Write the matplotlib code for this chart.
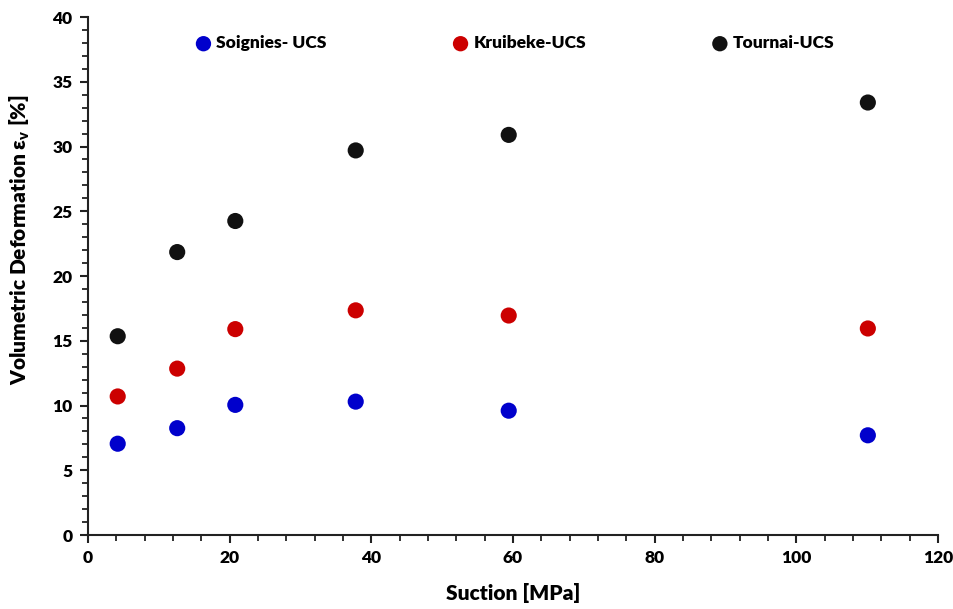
import matplotlib
matplotlib.use("Agg")
import matplotlib.pyplot as plt
from matplotlib.ticker import MultipleLocator

plt.rcParams['font.family'] = ['Lato', 'DejaVu Sans']
plt.rcParams['font.weight'] = 'heavy'
plt.rcParams['mathtext.default'] = 'regular'

suction = [4.2, 12.6, 20.8, 37.8, 59.4, 110.1]
soignies = [7.05, 8.25, 10.05, 10.3, 9.6, 7.7]
kruibeke = [10.7, 12.85, 15.9, 17.35, 16.95, 15.95]
tournai = [15.35, 21.85, 24.25, 29.7, 30.9, 33.4]
labels = ['Soignies- UCS', 'Kruibeke-UCS', 'Tournai-UCS']
colors = ['#0000CC', '#CC0000', '#111111']

fig = plt.figure(figsize=(9.54, 6.09), dpi=100)
ax = fig.add_axes([0.0922, 0.1215, 0.891, 0.8505])

for vals, lab, c in zip([soignies, kruibeke, tournai], labels, colors):
    ax.scatter(suction, vals, s=135, color=c, label=lab, zorder=3, edgecolors='none')

ax.set_xlim(0, 120)
ax.set_ylim(0, 40)
ax.xaxis.set_major_locator(MultipleLocator(20))
ax.xaxis.set_minor_locator(MultipleLocator(4))
ax.yaxis.set_major_locator(MultipleLocator(5))
ax.yaxis.set_minor_locator(MultipleLocator(1))
for s in ['top', 'right']:
    ax.spines[s].set_visible(False)
for s in ['left', 'bottom']:
    ax.spines[s].set_linewidth(1.5)
    ax.spines[s].set_color('#222222')
ax.tick_params(which='major', direction='out', length=6, width=1.5, labelsize=12.5, pad=5, colors='#222222')
ax.tick_params(which='minor', direction='out', length=4, width=1.3, colors='#222222')
for t in ax.get_xticklabels() + ax.get_yticklabels():
    t.set_fontweight('heavy')
    t.set_color('black')

ax.set_xlabel('Suction [MPa]', fontsize=15, fontweight='heavy', labelpad=12)
ax.set_ylabel(r'Volumetric Deformation ε$_{v}$ [%]', fontsize=15, fontweight='heavy')
ax.yaxis.set_label_coords(-0.066, 0.57)

leg = ax.legend(loc='upper center', bbox_to_anchor=(0.503, 0.995), ncol=3, frameon=False,
                handlelength=0.8, handletextpad=0.35, columnspacing=7.3, markerscale=0.95,
                prop={'weight': 'heavy', 'size': 12.5})
fig.savefig('out.png', dpi=100)
